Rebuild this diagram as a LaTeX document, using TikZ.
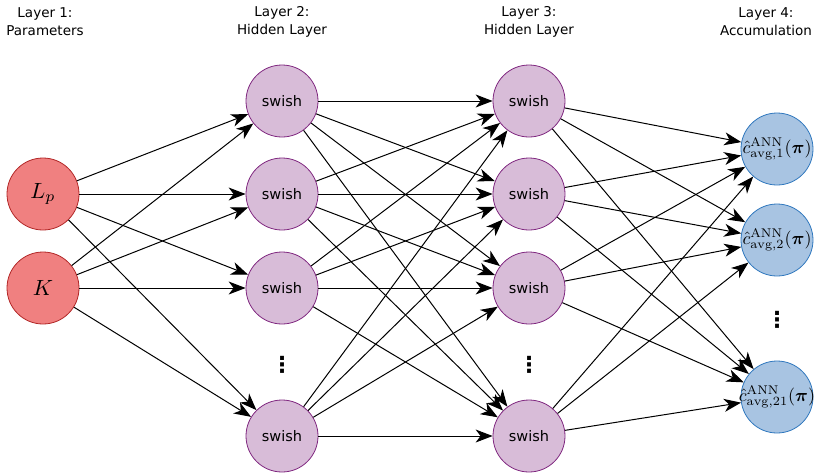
\documentclass[tikz,border=0pt]{standalone}
\usepackage{amsmath, bm, fontspec}
\newfontfamily\labelfont{DejaVu Sans}
\usetikzlibrary{arrows.meta}
\definecolor{paramfill}{RGB}{240,128,128}
\definecolor{paramdraw}{RGB}{178,40,40}
\definecolor{hiddenfill}{RGB}{216,188,216}
\definecolor{hiddendraw}{RGB}{128,40,128}
\definecolor{accumfill}{RGB}{168,196,226}
\definecolor{accumdraw}{RGB}{48,120,190}
\newcommand{\parlabel}[1]{\makebox[0pt]{\scalebox{2.2}{$#1$}}}
\newcommand{\cavg}[1]{\makebox[0pt]{\scalebox{1.8}{$\hat{c}^{\mathrm{ANN}}_{\mathrm{avg},#1}(\bm{\pi})$}}}

\begin{document}
\begin{tikzpicture}[x=1pt, y=-1pt,
  neuron/.style = {circle, minimum size=72pt, inner sep=0pt, line width=0.8pt},
  param/.style = {neuron, fill=paramfill, draw=paramdraw},
  hidden/.style = {neuron, fill=hiddenfill, draw=hiddendraw, font=\labelfont\fontsize{14.5}{16}\selectfont},
  accum/.style = {neuron, fill=accumfill, draw=accumdraw},
  vdots/.style = {inner sep=0pt, font=\labelfont\bfseries\fontsize{22}{24}\selectfont},
  header/.style = {align=center, font=\labelfont\fontsize{13.5}{18}\selectfont},
  conn/.style = {-{Stealth[length=17pt, width=13pt, inset=5pt]}, line width=1pt}]
\useasboundingbox (0,0) rectangle (816,475);

\node[header] (h1) at (45,22) {Layer 1:\\Parameters};
\node[header] (h2) at (282,22) {Layer 2:\\Hidden Layer};
\node[header] (h3) at (529,22) {Layer 3:\\Hidden Layer};
\node[header] (h4) at (766,22) {Layer 4:\\Accumulation};

\node[param] (lp) at (43,194) {\parlabel{L_p}};
\node[param] (k) at (43,288) {\parlabel{K}};

\node[hidden] (a1) at (282,101) {swish};
\node[hidden] (a2) at (282,194) {swish};
\node[hidden] (a3) at (282,288) {swish};
\node[vdots] (ad) at (282,365) {⋮};
\node[hidden] (a4) at (282,436) {swish};

\node[hidden] (b1) at (529,101) {swish};
\node[hidden] (b2) at (529,194) {swish};
\node[hidden] (b3) at (529,288) {swish};
\node[vdots] (bd) at (529,365) {⋮};
\node[hidden] (b4) at (529,436) {swish};

\node[accum] (c1) at (777,149) {\cavg{1}};
\node[accum] (c2) at (777,240) {\cavg{2}};
\node[vdots] (cd) at (777,320) {⋮};
\node[accum] (c3) at (777,397) {\cavg{21}};

\foreach \s in {lp,k}
  \foreach \t in {a1,a2,a3,a4}
    \draw[conn] (\s) -- (\t);
\foreach \s in {a1,a2,a3,a4}
  \foreach \t in {b1,b2,b3,b4}
    \draw[conn] (\s) -- (\t);
\foreach \s in {b1,b2,b3,b4}
  \foreach \t in {c1,c2,c3}
    \draw[conn] (\s) -- (\t);
\end{tikzpicture}
\end{document}
